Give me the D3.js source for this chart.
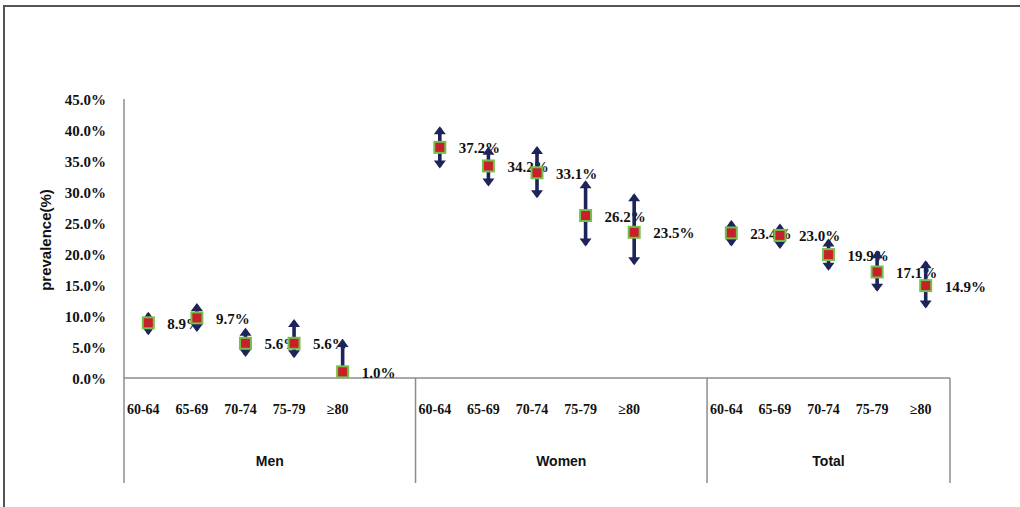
<!DOCTYPE html>
<html lang="en">
<head>
<meta charset="UTF-8">
<title>Prevalence by age and sex</title>
<script src="https://d3js.org/d3.v7.min.js"></script>
<style>
  body { margin: 0; background: #fff; }
  .num { font-family: "Liberation Serif", serif; font-weight: bold; font-size: 15px; fill: #111; }
  .age { font-family: "Liberation Serif", serif; font-weight: bold; font-size: 14px; fill: #111; }
  .grp { font-family: "Liberation Sans", Arial, sans-serif; font-weight: bold; font-size: 14px; fill: #111; }
  .axis-line { stroke: #8c8c8c; stroke-width: 1.5; fill: none; }
</style>
</head>
<body>
<svg id="chart" width="1020" height="507"></svg>
<script>
var groups = ["Men", "Women", "Total"];
var ages = ["60-64", "65-69", "70-74", "75-79", "\u226580"];
var yTicks = [0, 5, 10, 15, 20, 25, 30, 35, 40, 45];

// prevalence (%) and read-off error bar ends, per group, per age band
var menVal = [8.9, 9.7, 5.6, 5.6, 1.0];
var menLow = [6.9, 7.4, 3.4, 3.2, 0.0];
var menHigh = [10.7, 12.1, 8.1, 9.5, 6.3];
var womenVal = [37.2, 34.2, 33.1, 26.2, 23.5];
var womenLow = [33.8, 30.9, 29.0, 21.2, 18.2];
var womenHigh = [40.6, 37.3, 37.4, 31.9, 29.8];
var totalVal = [23.4, 23.0, 19.9, 17.1, 14.9];
var totalLow = [21.2, 20.8, 17.3, 13.9, 11.2];
var totalHigh = [25.5, 24.9, 22.5, 20.6, 19.0];

var vals = [menVal, womenVal, totalVal],
    lows = [menLow, womenLow, totalLow],
    highs = [menHigh, womenHigh, totalHigh];

var points = [];
groups.forEach(function(g, gi) {
  ages.forEach(function(a, ai) {
    points.push({group: g, age: a, slot: gi * 6 + ai,
      v: vals[gi][ai], lo: lows[gi][ai], hi: highs[gi][ai]});
  });
});

var svg = d3.select("#chart");
var plotLeft = 124, plotRight = 950, plotTop = 99, zeroY = 378, boxBottom = 483;

// 17 category slots: 5 ages + 1 blank gap per group (last group has no gap)
var x = d3.scaleBand().domain(d3.range(17)).range([plotLeft, plotRight]).padding(0);
var y = d3.scaleLinear().domain([0, 45]).range([zeroY, plotTop]);
var cx = function(d) { return x(d.slot) + x.bandwidth() / 2; };

// outer frame
svg.append("path")
  .style("stroke", "#555").style("stroke-width", 2).style("fill", "none")
  .attr("d", "M4,507V6H1020");

// y axis
var yAxis = svg.append("g").attr("transform", "translate(" + plotLeft + ",0)")
  .call(d3.axisLeft(y).tickValues(yTicks).tickSize(0).tickPadding(18)
    .tickFormat(function(d) { return d.toFixed(1) + "%"; }));
yAxis.select(".domain").remove();
yAxis.selectAll("text").attr("class", "num").attr("dy", "0.35em");

svg.append("line").attr("class", "axis-line")
  .attr("x1", plotLeft).attr("x2", plotLeft).attr("y1", plotTop).attr("y2", boxBottom);
svg.append("line").attr("class", "axis-line")
  .attr("x1", plotLeft).attr("x2", plotRight).attr("y1", zeroY).attr("y2", zeroY);

// group separators
var bounds = groups.map(function(g, gi) { return gi * 6; }).slice(1);
svg.selectAll(".sep").data(bounds).enter().append("line")
  .attr("class", "axis-line")
  .attr("x1", function(s) { return x(s); }).attr("x2", function(s) { return x(s); })
  .attr("y1", zeroY).attr("y2", boxBottom);
svg.append("line").attr("class", "axis-line")
  .attr("x1", plotRight).attr("x2", plotRight).attr("y1", zeroY).attr("y2", boxBottom);

// age labels
svg.selectAll(".agelbl").data(points).enter().append("text")
  .attr("class", "age").attr("text-anchor", "middle")
  .attr("x", function(d) { return cx(d) - 5; }).attr("y", 414)
  .text(function(d) { return d.age; });

// group labels
svg.selectAll(".grplbl").data(groups).enter().append("text")
  .attr("class", "grp").attr("text-anchor", "middle")
  .attr("x", function(g, gi) {
    var s0 = gi * 6, s1 = Math.min(gi * 6 + 5, 16);
    return (x(s0) + x(s1) + x.bandwidth()) / 2;
  })
  .attr("y", 466)
  .text(function(g) { return g; });

// y title
svg.append("text").attr("class", "grp")
  .attr("transform", "translate(51,240) rotate(-90)")
  .attr("text-anchor", "middle").style("font-size", "15px")
  .text("prevalence(%)");

// value labels
svg.selectAll(".val").data(points).enter().append("text")
  .attr("class", "num")
  .attr("x", function(d) { return cx(d) + 19; })
  .attr("y", function(d) { return y(d.v) + 6; })
  .text(function(d) { return d.v.toFixed(1) + "%"; });

// double-headed arrows for error bars
var navy = "#1c2459";
var arrows = svg.append("g");
points.forEach(function(d) {
  var px = cx(d), yt = y(d.hi), yb = y(d.lo), hw = 6, hh = 8;
  arrows.append("line").attr("x1", px).attr("x2", px)
    .attr("y1", yt + 2).attr("y2", yb - 2)
    .attr("stroke", navy).attr("stroke-width", 3.6);
  if (d.hi > d.v) {
    arrows.append("path").attr("fill", navy)
      .attr("d", "M" + px + "," + yt + "L" + (px + hw) + "," + (yt + hh) + "L" + (px - hw) + "," + (yt + hh) + "Z");
  }
  if (d.lo < d.v - 0.5) {
    arrows.append("path").attr("fill", navy)
      .attr("d", "M" + px + "," + yb + "L" + (px + hw) + "," + (yb - hh) + "L" + (px - hw) + "," + (yb - hh) + "Z");
  }
});

// markers
svg.selectAll(".mk").data(points).enter().append("rect")
  .attr("x", function(d) { return cx(d) - 5.5; })
  .attr("y", function(d) { return y(d.v) - 5.5; })
  .attr("width", 11).attr("height", 11)
  .attr("fill", "#c8202a").attr("stroke", "#74c04a").attr("stroke-width", 2);
</script>
</body>
</html>
